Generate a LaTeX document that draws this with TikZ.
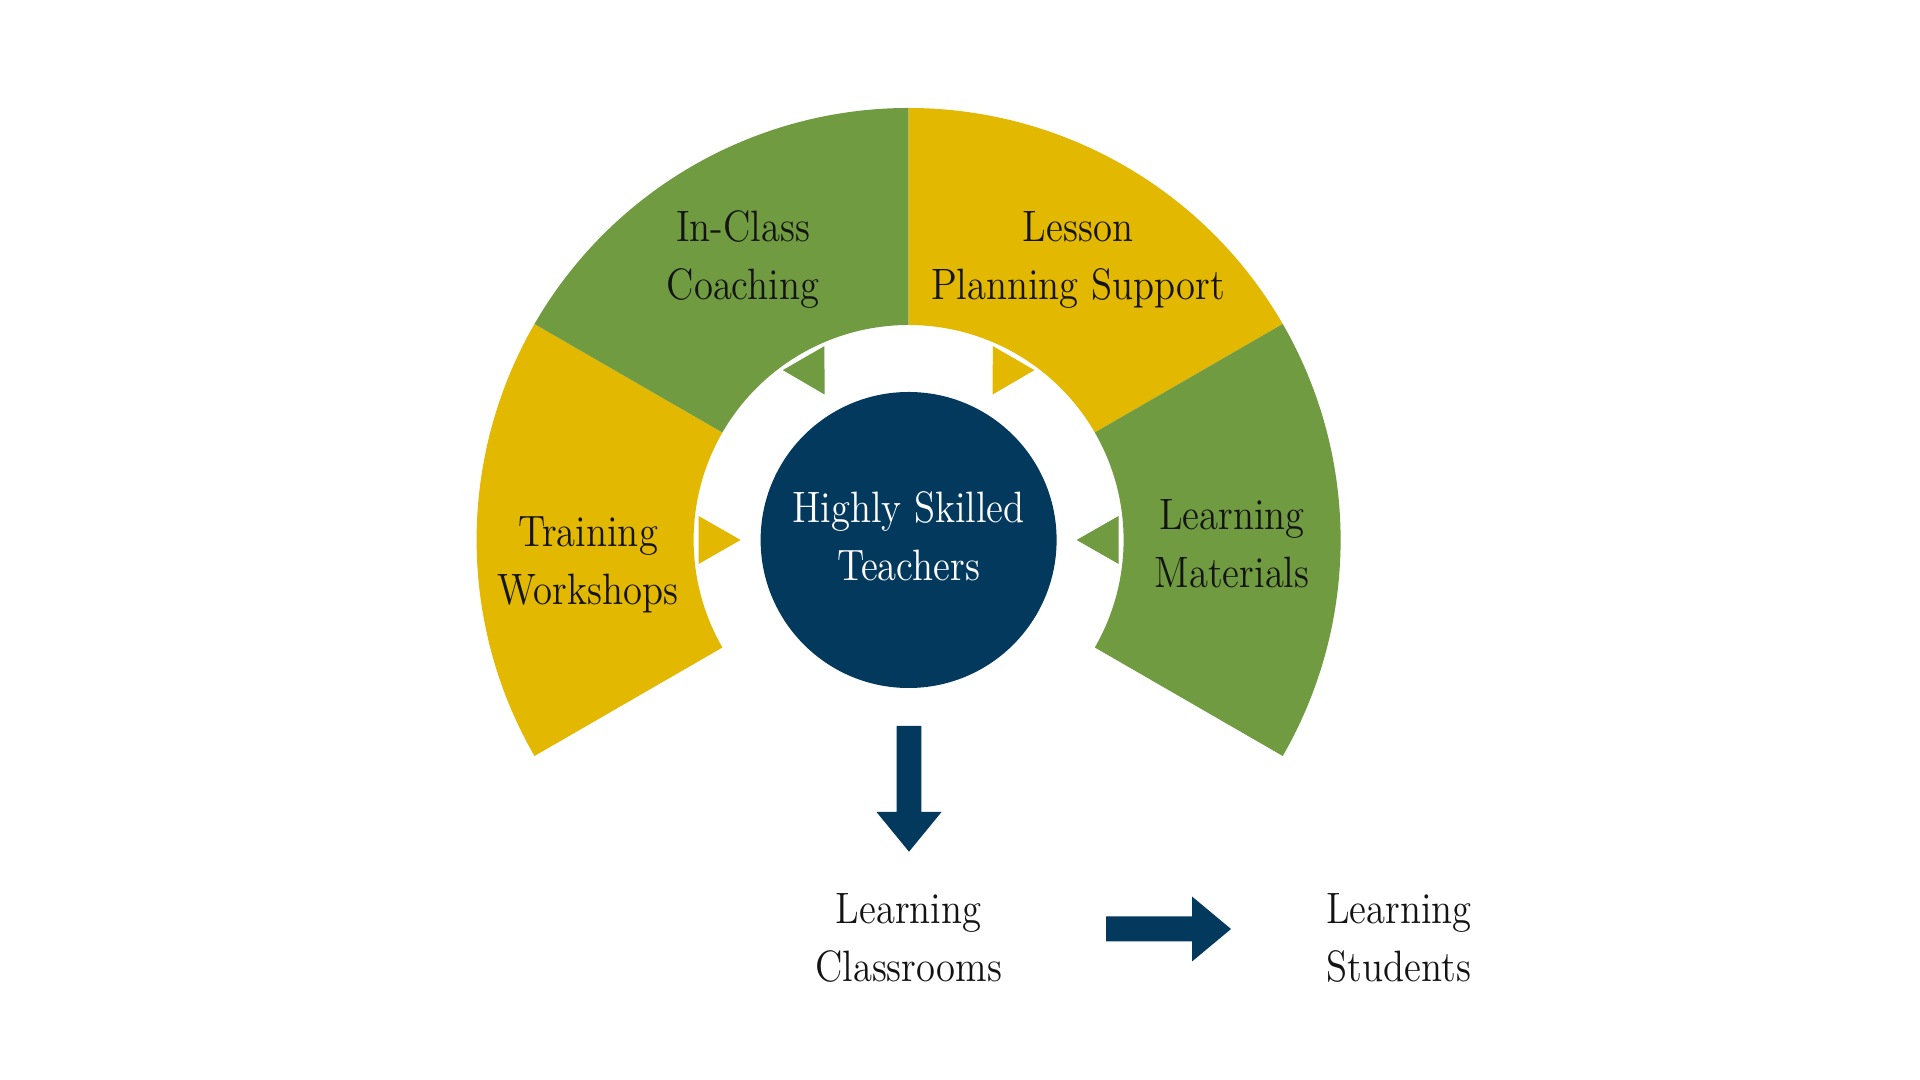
\documentclass[tikz,border=0pt]{standalone}
\usepackage{fontspec}
\setmainfont{Latin Modern Roman}[FakeStretch=0.88]
\usetikzlibrary{calc}
\definecolor{ringyellow}{HTML}{E2B800}
\definecolor{ringgreen}{HTML}{709B41}
\definecolor{navy}{HTML}{04395E}
\begin{document}
\begin{tikzpicture}[
  lbl/.style={align=center, inner sep=0pt, text=black!92,
    font=\fontsize{12.5pt}{16.5pt}\selectfont},
  wlbl/.style={lbl, text=white},
]
\useasboundingbox (0,0) rectangle (19.2,10.8);
\fill[white] (0,0) rectangle (19.2,10.8);
\coordinate (C) at (9.086,5.40);
\def\Ro{4.32}
\def\Ri{2.15}
% ring segments
\fill[ringyellow] ($(C)+(150:\Ro)$) arc (150:210:\Ro) -- ($(C)+(210:\Ri)$) arc (210:150:\Ri) -- cycle;
\fill[ringgreen]  ($(C)+(90:\Ro)$) arc (90:150:\Ro) -- ($(C)+(150:\Ri)$) arc (150:90:\Ri) -- cycle;
\fill[ringyellow] ($(C)+(30:\Ro)$) arc (30:90:\Ro) -- ($(C)+(90:\Ri)$) arc (90:30:\Ri) -- cycle;
\fill[ringgreen]  ($(C)+(-30:\Ro)$) arc (-30:30:\Ro) -- ($(C)+(30:\Ri)$) arc (30:-30:\Ri) -- cycle;
% inward triangles
\foreach \a/\c in {180/ringyellow,120/ringgreen,60/ringyellow,0/ringgreen}{
  \begin{scope}[shift={(C)}, rotate=\a]
    \fill[\c] (2.10,0.24) -- (2.10,-0.24) -- (1.68,0) -- cycle;
  \end{scope}
}
% central circle
\node[circle, fill=navy, minimum size=2.96cm, inner sep=0pt] (teach) at (C) {};
\node[wlbl] (teachlbl) at (9.086,5.435) {Highly Skilled\\Teachers};
% segment labels
\node[lbl] (coach) at (7.43,8.20) {In-Class\\Coaching};
\node[lbl] (lesson) at (10.78,8.20) {Lesson\\Planning Support};
\node[lbl] (train) at (5.88,5.155) {Training\\Workshops};
\node[lbl] (mat) at (12.32,5.36) {Learning\\Materials};
% outcome labels
\node[lbl] (class) at (9.086,1.425) {Learning\\Classrooms};
\node[lbl] (stud) at (13.99,1.425) {Learning\\Students};
% block arrows
\coordinate (dA) at (9.09,3.54);
\coordinate (dB) at (9.09,2.283);
\fill[navy] ($(dA)+(-0.123,0)$) -- ($(dA)+(0.123,0)$) -- (9.213,2.68) -- (9.415,2.68)
  -- (dB) -- (8.765,2.68) -- (8.967,2.68) -- cycle;
\coordinate (rA) at (11.06,1.51);
\coordinate (rB) at (12.31,1.51);
\fill[navy] ($(rA)+(0,0.125)$) -- (11.92,1.635) -- (11.92,1.835) -- (rB)
  -- (11.92,1.185) -- (11.92,1.385) -- ($(rA)+(0,-0.125)$) -- cycle;
\end{tikzpicture}
\end{document}
